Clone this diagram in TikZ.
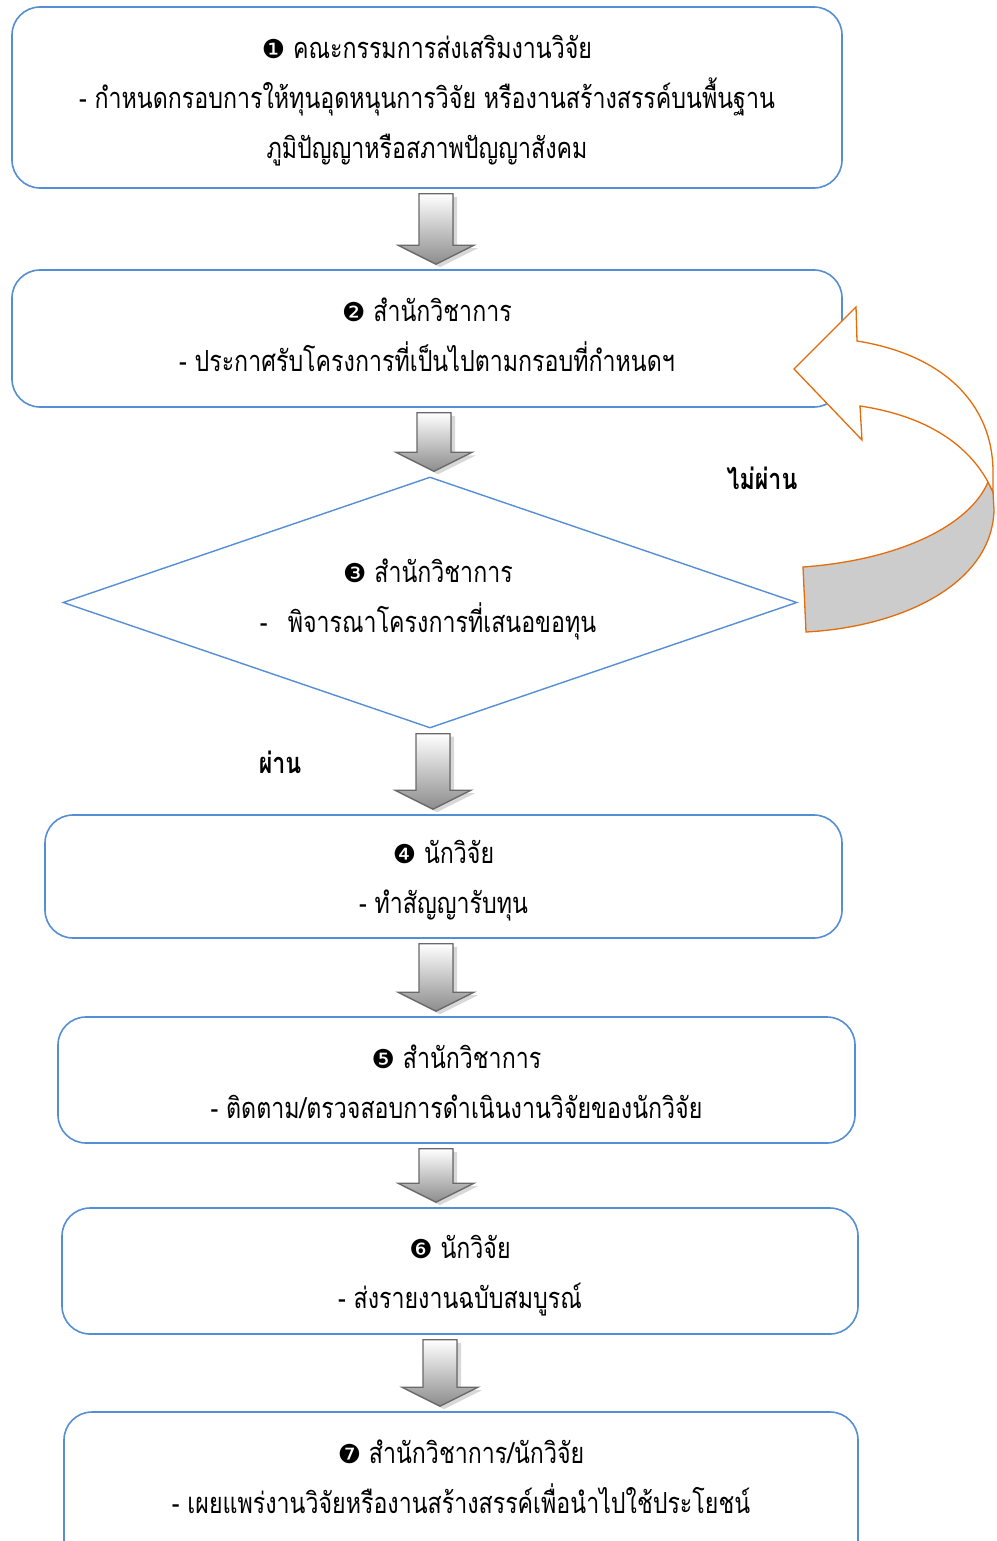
\documentclass[tikz,border=0pt]{standalone}
\usepackage{fontspec}
\setmainfont[Script=Thai,FakeStretch=0.8]{Loma}
\newfontfamily\dingfont{DejaVu Sans}
\newcommand{\stepno}[1]{{\dingfont\fontsize{26}{50}\selectfont #1}}
\usepackage{tikz}
\usetikzlibrary{shapes.geometric, shadows, calc, backgrounds}
\definecolor{boxblue}{RGB}{85,142,213}
\definecolor{turnline}{RGB}{228,108,10}
\definecolor{turngray}{RGB}{204,204,204}
\definecolor{shaftline}{RGB}{105,105,105}
\tikzset{
x=1pt, y=-1pt, % one unit is one pixel of the layout
box/.style={draw=boxblue, line width=1.6, rounded corners=28, inner sep=0}, % the rounded step boxes
check/.style={draw=boxblue, line width=1.4, shape=diamond, aspect=2.924, inner sep=0}, % the decision
txt/.style={align=center, inner sep=0}, % the text of a step
lbl/.style={font=\fontsize{29}{50}\selectfont\bfseries}, % pass / fail words
flowarrow/.style={draw=shaftline, line width=1.3, top color=white, bottom color=black!45,
  drop shadow={shadow xshift=4pt, shadow yshift=-3pt, fill=black!30}}, % the fat down arrows
turn/.style={draw=turnline, line width=1.3}, % the curved way back
}

\begin{document}
\begin{tikzpicture}[font=\fontsize{29}{50}\selectfont]
    \useasboundingbox (0,0) rectangle (996,1541);
    \clip (0,0) rectangle (996,1541);

    \node[box, minimum width=830, minimum height=181] (box1) at (427,97.5) {};
    \node[txt] (box1txt) at (427,101)
        {\stepno{❶} คณะกรรมการส่งเสริมงานวิจัย\\- กำหนดกรอบการให้ทุนอุดหนุนการวิจัย หรืองานสร้างสรรค์บนพื้นฐาน\\ภูมิปัญญาหรือสภาพปัญญาสังคม};
    \node[box, minimum width=830, minimum height=137] (box2) at (427,338.5) {};
    \node[txt] (box2txt) at (427,335)
        {\stepno{❷} สำนักวิชาการ\\- ประกาศรับโครงการที่เป็นไปตามกรอบที่กำหนดฯ};
    \node[check, minimum width=734, minimum height=251] (check) at (430,602.5) {};
    \node[txt] (checktxt) at (428,599)
        {\stepno{❸} สำนักวิชาการ\\-\hspace{0.7em}พิจารณาโครงการที่เสนอขอทุน};
    \node[box, minimum width=797, minimum height=123] (box4) at (443.5,876.5) {};
    \node[txt] (box4txt) at (443.5,881)
        {\stepno{❹} นักวิจัย\\- ทำสัญญารับทุน};
    \node[box, minimum width=797, minimum height=126] (box5) at (456.5,1080) {};
    \node[txt] (box5txt) at (456.5,1082)
        {\stepno{❺} สำนักวิชาการ\\- ติดตาม/ตรวจสอบการดำเนินงานวิจัยของนักวิจัย};
    \node[box, minimum width=796, minimum height=126] (box6) at (460,1271) {};
    \node[txt] (box6txt) at (460,1276)
        {\stepno{❻} นักวิจัย\\- ส่งรายงานฉบับสมบูรณ์};
    \node[box, minimum width=794, minimum height=170] (box7) at (461,1497) {};
    \node[txt] (box7txt) at (461,1477)
        {\stepno{❼} สำนักวิชาการ/นักวิจัย\\- เผยแพร่งานวิจัยหรืองานสร้างสรรค์เพื่อนำไปใช้ประโยชน์};

    \node[lbl] (fail) at (762,478) {ไม่ผ่าน};
    \node[lbl] (pass) at (280,762) {ผ่าน};

    % fat arrows, from the bottom of one step to the top of the next
    \begin{scope}[on background layer]
    \foreach \up/\dn/\cx in {box1/box2/436, box2/check/434, check/box4/433,
                             box4/box5/436, box5/box6/436, box6/box7/440}
        \filldraw[flowarrow] let \p1=(\up.south), \p2=(\dn.north) in
            ({\cx pt-17pt},{\y1-5pt}) -- ({\cx pt+17pt},{\y1-5pt})
            -- ({\cx pt+17pt},{\y2+24pt}) -- ({\cx pt+38pt},{\y2+24pt})
            -- ({\cx pt},{\y2+5pt}) -- ({\cx pt-38pt},{\y2+24pt})
            -- ({\cx pt-17pt},{\y2+24pt}) -- cycle;
    \end{scope}

    % curved arrow back from the decision to step 2
    \filldraw[turn, fill=turngray] (803,567) .. controls (900,560) and (970,525) .. (988,482)
        -- (993,492) -- (994,510) .. controls (992,585) and (900,627) .. (806,632) -- cycle;
    \filldraw[turn, fill=white] (857,341) .. controls (945,355) and (992,405) .. (993,470)
        -- (993,492) -- (988,482) .. controls (965,440) and (920,415) .. (860,406)
        -- (862,440) -- (794,369) -- (856,307) -- cycle;
\end{tikzpicture}
\end{document}
